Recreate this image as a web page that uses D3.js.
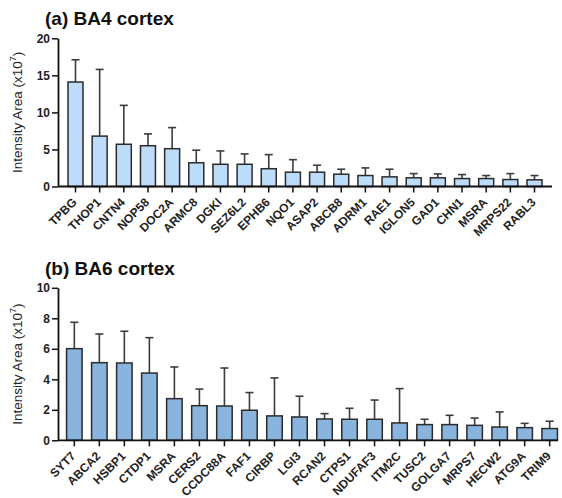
<!DOCTYPE html>
<html>
<head>
<meta charset="utf-8">
<script src="https://cdn.jsdelivr.net/npm/d3@7/dist/d3.min.js"></script>
<style>
  html, body { margin: 0; padding: 0; background: #fff; }
  svg { display: block; }
  text { font-family: "Liberation Sans", Arial, Helvetica, sans-serif; }
</style>
</head>
<body>
<svg id="chart" width="562" height="498"></svg>
<script>
// Panel (a): BA4 cortex
const genesA = ["TPBG","THOP1","CNTN4","NOP58","DOC2A","ARMC8","DGKI","SEZ6L2","EPHB6","NQO1",
                "ASAP2","ABCB8","ADRM1","RAE1","IGLON5","GAD1","CHN1","MSRA","MRPS22","RABL3"];
const meanA = [14.1, 6.8, 5.7, 5.5, 5.1, 3.2, 3.0, 3.0, 2.4, 1.93,
               1.93, 1.66, 1.48, 1.3, 1.17, 1.17, 1.07, 1.07, 0.94, 0.9];
const upperA = [17.1, 15.8, 10.95, 7.1, 7.95, 4.9, 4.8, 4.4, 4.3, 3.62,
                2.87, 2.33, 2.51, 2.33, 1.74, 1.7, 1.61, 1.48, 1.74, 1.48];
const ticksA = [0, 5, 10, 15, 20];

// Panel (b): BA6 cortex
const genesB = ["SYT7","ABCA2","HSBP1","CTDP1","MSRA","CERS2","CCDC88A","FAF1","CIRBP","LGI3",
                "RCAN2","CTPS1","NDUFAF3","ITM2C","TUSC2","GOLGA7","MRPS7","HECW2","ATG9A","TRIM9"];
const meanB = [6.01, 5.09, 5.07, 4.41, 2.73, 2.27, 2.25, 1.97, 1.6, 1.53,
               1.4, 1.38, 1.38, 1.14, 1.03, 1.03, 0.98, 0.87, 0.83, 0.77];
const upperB = [7.74, 6.97, 7.15, 6.73, 4.81, 3.36, 4.74, 3.13, 4.09, 2.89,
                1.75, 2.1, 2.64, 3.39, 1.38, 1.64, 1.46, 1.86, 1.11, 1.25];
const ticksB = [0, 2, 4, 6, 8, 10];

const svg = d3.select("#chart");

function panel(cfg) {
  const g = svg.append("g");
  const x = d3.scaleBand().domain(cfg.genes).range([cfg.x0, cfg.x1])
    .paddingInner(cfg.padIn).paddingOuter(cfg.padOut);
  const y = d3.scaleLinear().domain([0, cfg.ymax]).range([cfg.yBase, cfg.yTop]);

  // title
  g.append("text").attr("x", 45).attr("y", cfg.titleY)
    .attr("font-size", 19).attr("font-weight", "bold").attr("fill", "#111")
    .text(cfg.title);

  // y-axis label with superscript exponent
  const lbl = g.append("text")
    .attr("transform", `translate(21.5,${(cfg.yBase + cfg.yTop) / 2}) rotate(-90)`)
    .attr("text-anchor", "middle").attr("font-size", 13.5).attr("fill", "#222");
  lbl.append("tspan").text("Intensity Area (x10");
  lbl.append("tspan").attr("dy", -5.5).attr("font-size", 9).text("7");
  lbl.append("tspan").attr("dy", 5.5).text(")");

  // error bars (mean to mean+SD, with cap)
  const err = g.append("g").attr("stroke", "#3c3c3c").attr("stroke-width", 1.6);
  cfg.genes.forEach((gname, i) => {
    const cx = x(gname) + x.bandwidth() / 2;
    err.append("line").attr("x1", cx).attr("x2", cx)
      .attr("y1", y(cfg.mean[i])).attr("y2", y(cfg.upper[i]));
    err.append("line").attr("x1", cx - 4).attr("x2", cx + 4)
      .attr("y1", y(cfg.upper[i])).attr("y2", y(cfg.upper[i]));
  });

  // bars
  g.append("g").selectAll("rect").data(cfg.genes).join("rect")
    .attr("x", d => x(d))
    .attr("y", (d, i) => y(cfg.mean[i]))
    .attr("width", x.bandwidth())
    .attr("height", (d, i) => y(0) - y(cfg.mean[i]))
    .attr("fill", cfg.fill)
    .attr("stroke", "#2b2b2b").attr("stroke-width", 1.5);

  // y axis
  const ya = g.append("g").attr("transform", `translate(${cfg.x0},0)`)
    .call(d3.axisLeft(y).tickValues(cfg.ticks).tickSize(6).tickPadding(2).tickSizeOuter(0));
  ya.select(".domain").attr("stroke", "#111").attr("stroke-width", 1.8);
  ya.selectAll(".tick line").attr("stroke", "#111").attr("stroke-width", 1.5);
  ya.selectAll(".tick text").attr("font-size", 12).attr("font-weight", "bold")
    .attr("fill", "#222").attr("font-family", "Liberation Sans, Arial, sans-serif");

  // x axis
  const xa = g.append("g").attr("transform", `translate(0,${cfg.yBase})`)
    .call(d3.axisBottom(x).tickSize(6).tickSizeOuter(0));
  xa.select(".domain").attr("stroke", "#111").attr("stroke-width", 1.8)
    .attr("d", `M${cfg.x0},0H${cfg.xEnd}`);
  xa.selectAll(".tick line").attr("stroke", "#111").attr("stroke-width", 1.5);
  xa.selectAll(".tick text")
    .attr("font-size", 12).attr("font-weight", "bold").attr("fill", "#222")
    .attr("font-family", "Liberation Sans, Arial, sans-serif")
    .attr("text-anchor", "end")
    .attr("dy", null).attr("y", null)
    .attr("transform", "translate(2,16.5) rotate(-45)");
}

panel({
  title: "(a) BA4 cortex", titleY: 25,
  genes: genesA, mean: meanA, upper: upperA, ticks: ticksA, ymax: 20,
  x0: 58, x1: 552, xEnd: 552, padIn: 0.38, padOut: 0.414,
  yBase: 186.5, yTop: 38.3, fill: "#bcdcfa"
});

panel({
  title: "(b) BA6 cortex", titleY: 275,
  genes: genesB, mean: meanB, upper: upperB, ticks: ticksB, ymax: 10,
  x0: 58, x1: 566, xEnd: 558, padIn: 0.38, padOut: 0.342,
  yBase: 440.3, yTop: 287.8, fill: "#88b4de"
});
</script>
</body>
</html>
